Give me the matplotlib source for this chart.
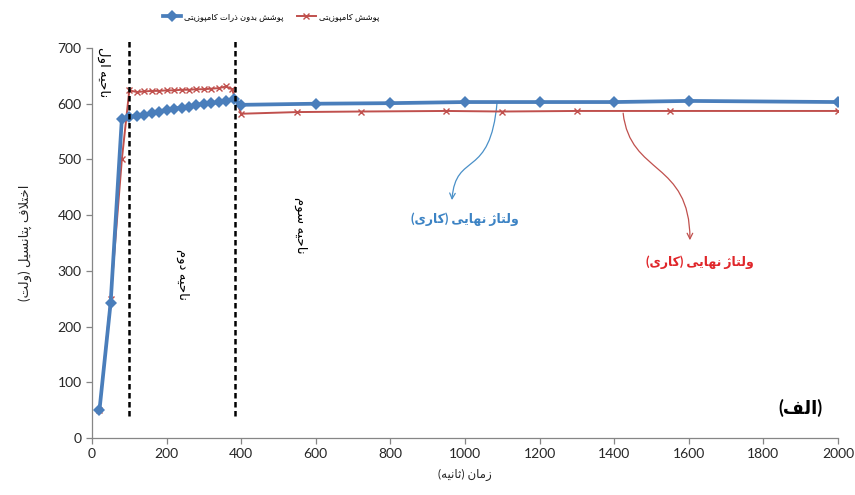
import matplotlib
matplotlib.use("Agg")
import matplotlib.pyplot as plt
from matplotlib.path import Path
from matplotlib.patches import FancyArrowPatch

plt.rcParams['font.family'] = ['Lato', 'DejaVu Sans']

# ---- data -------------------------------------------------------------
blue_t = [20, 50, 80, 100, 120, 140, 160, 180, 200, 220, 240, 260, 280, 300,
          320, 340, 360, 380, 400, 600, 800, 1000, 1200, 1400, 1600, 2000]
blue_v = [50, 243, 573, 576, 578, 580, 583, 586, 589, 591, 593, 595, 598,
          600, 601, 603, 605, 608, 598, 600, 601, 603, 603, 603, 605, 603]

red_t = [20, 50, 80, 100, 120, 140, 160, 180, 200, 220, 240, 260, 280, 300,
         320, 340, 360, 375, 400, 550, 720, 950, 1100, 1300, 1550, 2000]
red_v = [50, 250, 500, 624, 621, 622, 623, 623, 624, 624, 625, 625, 626, 626,
         627, 628, 631, 626, 582, 585, 586, 587, 586, 587, 587, 587]

region_bounds = [100, 383]
x_ticks = list(range(0, 2001, 200))
y_ticks = list(range(0, 701, 100))

series_names = ["پوشش بدون ذرات کامپوزیتی", "پوشش کامپوزیتی"]
region_names = ["ناحیه اول", "ناحیه دوم", "ناحیه سوم"]
x_title = "زمان (ثانیه)"
y_title = "اختلاف پتانسیل (ولت)"
final_label = "ولتاژ نهایی (کاری)"
panel_tag = "(الف)"

# ---- minimal Arabic-script shaping for a renderer without bidi ---------
FORMS = {
    'ا': ('\ufe8d', '\ufe8e', None, None),
    'ب': ('\ufe8f', '\ufe90', '\ufe91', '\ufe92'),
    'پ': ('\ufb56', '\ufb57', '\ufb58', '\ufb59'),
    'ت': ('\ufe95', '\ufe96', '\ufe97', '\ufe98'),
    'ث': ('\ufe99', '\ufe9a', '\ufe9b', '\ufe9c'),
    'ح': ('\ufea1', '\ufea2', '\ufea3', '\ufea4'),
    'خ': ('\ufea5', '\ufea6', '\ufea7', '\ufea8'),
    'د': ('\ufea9', '\ufeaa', None, None),
    'ذ': ('\ufeab', '\ufeac', None, None),
    'ر': ('\ufead', '\ufeae', None, None),
    'ز': ('\ufeaf', '\ufeb0', None, None),
    'ژ': ('\ufb8a', '\ufb8b', None, None),
    'س': ('\ufeb1', '\ufeb2', '\ufeb3', '\ufeb4'),
    'ش': ('\ufeb5', '\ufeb6', '\ufeb7', '\ufeb8'),
    'ف': ('\ufed1', '\ufed2', '\ufed3', '\ufed4'),
    'ک': ('\ufb8e', '\ufb8f', '\ufb90', '\ufb91'),
    'ل': ('\ufedd', '\ufede', '\ufedf', '\ufee0'),
    'م': ('\ufee1', '\ufee2', '\ufee3', '\ufee4'),
    'ن': ('\ufee5', '\ufee6', '\ufee7', '\ufee8'),
    'ه': ('\ufee9', '\ufeea', '\ufeeb', '\ufeec'),
    'و': ('\ufeed', '\ufeee', None, None),
    'ی': ('\ufbfc', '\ufbfd', '\ufbfe', '\ufbff'),
}
DUAL = {c for c, f in FORMS.items() if f[2] is not None}
JOINING = set(FORMS)
MIRROR = {'(': ')', ')': '('}


def rtl(text):
    out = []
    i, n = 0, len(text)
    while i < n:
        c = text[i]
        prev_links = i > 0 and text[i - 1] in DUAL
        if c == 'ل' and i + 1 < n and text[i + 1] == 'ا':
            out.append('\ufefc' if prev_links else '\ufefb')
            i += 2
            continue
        if c in FORMS:
            iso, fin, ini, med = FORMS[c]
            next_links = c in DUAL and i + 1 < n and text[i + 1] in JOINING
            if prev_links and next_links:
                g = med
            elif prev_links:
                g = fin
            elif next_links:
                g = ini
            else:
                g = iso
            out.append(g)
        else:
            out.append(MIRROR.get(c, c))
        i += 1
    return ''.join(reversed(out))


# ---- figure -----------------------------------------------------------
fig = plt.figure(figsize=(8.55, 4.95), dpi=100)
ax = fig.add_axes([92 / 855, 57 / 495, 746 / 855, 390 / 495])

blue = '#4a7ebb'
red = '#c0504d'

ax.plot(red_t, red_v, color=red, lw=1.4, marker='x', ms=4.5, mew=1.0,
        zorder=3, label=rtl(series_names[1]))
ax.plot(blue_t, blue_v, color=blue, lw=2.7, marker='D', ms=6.5, mew=0,
        zorder=4, label=rtl(series_names[0]))

for xb in region_bounds:
    ax.plot([xb, xb], [40, 715], color='black', lw=1.8,
            ls=(0, (2.2, 1.4)), clip_on=False, zorder=5)

ax.set_xlim(0, 2000)
ax.set_ylim(0, 700)
ax.set_xticks(x_ticks)
ax.set_yticks(y_ticks)
for s in ('top', 'right'):
    ax.spines[s].set_visible(False)
for s in ('left', 'bottom'):
    ax.spines[s].set_color('#868686')
    ax.spines[s].set_linewidth(0.9)
ax.tick_params(axis='both', colors='#868686', labelcolor='#262626',
               labelsize=10, length=4, width=0.9, direction='out')

ax.set_xlabel(rtl(x_title), fontsize=8.5, labelpad=6, color='#262626')
ax.set_ylabel(rtl(y_title), fontsize=9.5, labelpad=18, color='#262626')

# region labels
region_pos = [(30, 657), (244, 293), (558, 382)]
for name, (px, py) in zip(region_names, region_pos):
    ax.text(px, py, rtl(name), rotation=-90, ha='center', va='center',
            fontsize=9.5, color='black', zorder=6)

# final voltage annotations
ax.text(1000, 392, rtl(final_label), color='#3c83c4', fontsize=9,
        fontweight='bold', ha='center', va='center')
ax.text(1630, 316, rtl(final_label), color='#e0262a', fontsize=9,
        fontweight='bold', ha='center', va='center')

blue_path = Path([(1086, 603), (1068, 462), (975, 516), (965, 427)],
                 [Path.MOVETO, Path.CURVE4, Path.CURVE4, Path.CURVE4])
ax.add_patch(FancyArrowPatch(path=blue_path, arrowstyle='->',
                             mutation_scale=10, color='#4a90c8', lw=0.9))
red_path = Path([(1424, 583), (1443, 471), (1603, 498), (1603, 355)],
                [Path.MOVETO, Path.CURVE4, Path.CURVE4, Path.CURVE4])
ax.add_patch(FancyArrowPatch(path=red_path, arrowstyle='->',
                             mutation_scale=10, color='#c0504d', lw=0.9))

ax.text(1898, 54, rtl(panel_tag), fontsize=13, fontweight='bold',
        ha='center', va='center', color='black')

# legend: blue first, red second
h, l = ax.get_legend_handles_labels()
fig.legend(h[::-1], l[::-1], loc='center', bbox_to_anchor=(271 / 855, 1 - 17 / 495),
           ncol=2, frameon=False, fontsize=6, handlelength=2.2,
           columnspacing=1.6, handletextpad=0.4)

fig.savefig('out.png', dpi=100)
